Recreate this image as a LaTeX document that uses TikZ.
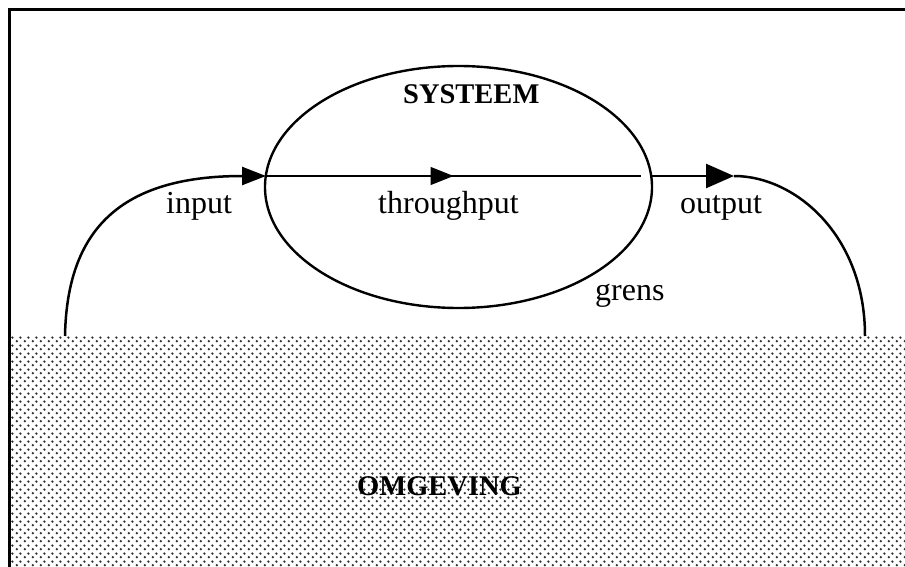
\documentclass[tikz,border=0pt]{standalone}
\usepackage{fontspec}
\setmainfont{Liberation Serif}
\usetikzlibrary{arrows.meta,patterns,decorations.markings,shapes.geometric}
\pgfdeclarepatternformonly{mydots}{\pgfpointorigin}{\pgfpoint{7.6pt}{7.6pt}}{\pgfpoint{7.6pt}{7.6pt}}{%
  \pgfpathcircle{\pgfpoint{1.9pt}{1.9pt}}{1.35pt}%
  \pgfpathcircle{\pgfpoint{5.7pt}{5.7pt}}{1.35pt}%
  \pgfusepath{fill}}
\tikzset{
  lbl/.style={font=\fontsize{32}{36}\selectfont, inner sep=0pt, anchor=base west},
  blbl/.style={font=\fontsize{28.5}{32}\selectfont\bfseries, inner sep=0pt, anchor=base west},
  thick line/.style={line width=2.5pt},
  tipA/.style={-{Triangle[length=24pt,width=18pt]}},
}
\begin{document}
\begin{tikzpicture}[x=1pt,y=-1pt]
\useasboundingbox (0,0) rectangle (905,567);
% environment
\fill[pattern=mydots,pattern color=black!80] (11,336) rectangle (905,567);
% frame
\draw[line width=3pt] (9.5,567) -- (9.5,9.5) -- (905,9.5);
% system ellipse
\node[ellipse, draw, line width=2.4pt, minimum width=387pt, minimum height=242pt, inner sep=0pt] (sys) at (458.5,187) {};
% coordinates
\coordinate (inStart) at (65,336);
\coordinate (inEnd) at (266,176);
\coordinate (thStart) at (266,176);
\coordinate (thEnd) at (641,176);
\coordinate (outStart) at (651,176);
\coordinate (outTip) at (734,176);
\coordinate (outEnd) at (865,336);
% input
\draw[thick line, tipA] (inStart) .. controls (67,230) and (120,176) .. (inEnd);
% throughput
\draw[line width=1.1pt, decoration={markings, mark=at position 0.5 with {\arrow{Triangle[length=23pt,width=18pt]}}}, postaction={decorate}] (thStart) -- (thEnd);
% output
\draw[thick line, -{Triangle[length=28pt,width=24pt]}] (outStart) -- (outTip);
\draw[thick line] (outTip) .. controls (795,176) and (865,235) .. (outEnd);
% labels
\node[blbl] (lsys) at (403,104) {SYSTEEM};
\node[lbl] (lth) at (378,213) {throughput};
\node[lbl] (lin) at (166,213) {input};
\node[lbl] (lout) at (680,213) {output};
\node[lbl] (lgr) at (595,300) {grens};
\node[blbl] (lomg) at (357,495) {OMGEVING};
\end{tikzpicture}
\end{document}
